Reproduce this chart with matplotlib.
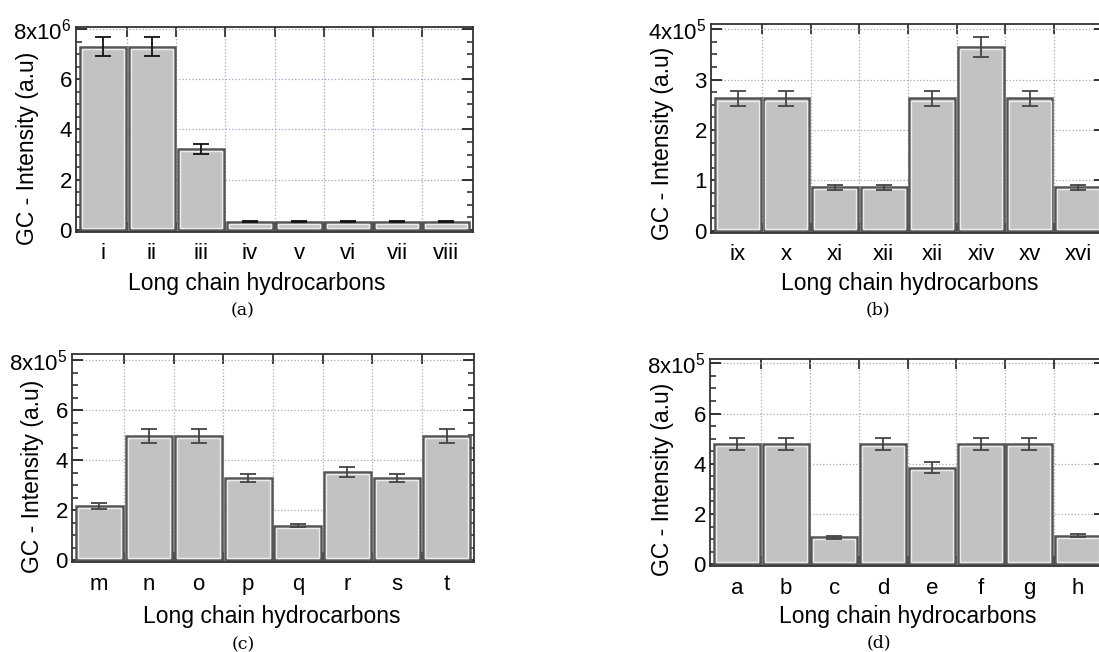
import matplotlib
matplotlib.use('Agg')
import matplotlib.pyplot as plt
from matplotlib.ticker import MultipleLocator, FixedLocator, NullFormatter
import numpy as np

plt.rcParams['font.family'] = ['Liberation Sans', 'DejaVu Sans']
plt.rcParams['mathtext.fontset'] = 'custom'
plt.rcParams['mathtext.rm'] = 'Liberation Sans'

# ---- data (values in units of the axis multiplier) ----
labels_a = ['i', 'ii', 'iii', 'iv', 'v', 'vi', 'vii', 'viii']
vals_a = [7.3, 7.3, 3.23, 0.33, 0.33, 0.33, 0.33, 0.33]
errs_a = [0.37, 0.37, 0.2, 0.02, 0.02, 0.02, 0.02, 0.02]

labels_b = ['ix', 'x', 'xi', 'xii', 'xii', 'xiv', 'xv', 'xvi']
vals_b = [2.63, 2.63, 0.87, 0.87, 2.63, 3.65, 2.63, 0.87]
errs_b = [0.15, 0.15, 0.05, 0.05, 0.15, 0.2, 0.15, 0.05]

labels_c = ['m', 'n', 'o', 'p', 'q', 'r', 's', 't']
vals_c = [2.17, 4.96, 4.96, 3.29, 1.38, 3.52, 3.29, 4.96]
errs_c = [0.12, 0.28, 0.28, 0.17, 0.07, 0.2, 0.17, 0.28]

labels_d = ['a', 'b', 'c', 'd', 'e', 'f', 'g', 'h']
vals_d = [4.78, 4.78, 1.08, 4.78, 3.85, 4.78, 4.78, 1.14]
errs_d = [0.25, 0.25, 0.06, 0.25, 0.21, 0.25, 0.25, 0.05]

W, H = 1099, 652
_FILL, _EDGE = '#c2c2c2', '#555555'


def _px_axes(fig, left, right, top, bottom):
    return fig.add_axes([left / W, 1 - bottom / H, (right - left) / W, (bottom - top) / H])


def _panel(fig, box, labels, vals, errs, ylim, ymax, major, exp, caption,
           grid_color, err_color, ylab_xy, tick_y, xlab_xy, cap_xy):
    left, right, top, bottom = box
    ax = _px_axes(fig, *box)
    x = np.arange(len(vals))
    span = ylim[1] - ylim[0]
    ax.bar(x, vals, width=0.94, color=_FILL, edgecolor=_EDGE, lw=1.8, zorder=2)
    # inner light outline -> double-border look
    ax.bar(x, [v - 0.02 * span for v in vals], bottom=0.009 * span, width=0.86,
           color='none', edgecolor='#ececec', lw=1.0, zorder=3)
    ax.errorbar(x, vals, yerr=errs, fmt='none', ecolor=err_color, elinewidth=1.3,
                capsize=5.5, capthick=1.3, zorder=4)
    ax.set_xlim(-0.55, len(vals) - 0.45)
    ax.set_ylim(*ylim)

    bounds = np.arange(len(vals) + 1) - 0.5
    ax.xaxis.set_major_locator(FixedLocator(bounds[1:-1]))
    ax.xaxis.set_major_formatter(NullFormatter())
    ax.xaxis.set_minor_locator(FixedLocator(x))
    ax.set_xticklabels(labels, minor=True)
    ax.tick_params(axis='x', which='major', direction='in', top=True, bottom=True,
                   length=7, width=1.3, color='#333333')
    pad_px = tick_y - bottom - 9
    ax.tick_params(axis='x', which='minor', length=0, labelsize=16,
                   pad=pad_px * 0.72)

    yt = np.arange(0, ymax + major / 2, major)
    ax.set_yticks(yt)
    ylabels = [f'{v:g}' for v in yt]
    ylabels[-1] = f'{ymax:g}x10$^{{{exp}}}$'
    ax.set_yticklabels(ylabels)
    ax.yaxis.set_minor_locator(MultipleLocator(major / 4))
    ax.tick_params(axis='y', which='major', direction='in', left=True, right=True,
                   length=8, width=1.3, labelsize=16, pad=3, color='#222222')
    ax.tick_params(axis='y', which='minor', direction='in', left=True, right=True,
                   length=4.5, width=1.1, color='#222222')

    ax.grid(True, which='major', ls=':', lw=0.9, color=grid_color, zorder=0)
    ax.set_axisbelow(True)
    for sp in ax.spines.values():
        sp.set_color('#333333')
        sp.set_linewidth(1.3)

    ax.set_xlabel('Long chain hydrocarbons', fontsize=16.5)
    ax.set_ylabel('GC - Intensity (a.u)', fontsize=16.5)
    ax.xaxis.label.set_va('center')
    ax.yaxis.label.set_va('center')
    ax.xaxis.set_label_coords((xlab_xy[0] - left) / (right - left),
                              (bottom - xlab_xy[1]) / (bottom - top))
    ax.yaxis.set_label_coords((ylab_xy[0] - left) / (right - left),
                              (bottom - ylab_xy[1]) / (bottom - top))
    fig.text(cap_xy[0] / W, 1 - cap_xy[1] / H, caption, ha='center', va='center',
             fontsize=12.5, family='DejaVu Serif')
    return ax


fig = plt.figure(figsize=(W / 100, H / 100), dpi=100)
fig.patch.set_facecolor('white')

_panel(fig, (76, 473, 27, 232), labels_a, vals_a, errs_a, (-0.08, 8.08), 8, 2, 6,
       '(a)', '#a0a0c8', '#111111', (28, 148), 252, (257, 284), (243, 311))
_panel(fig, (711, 1105, 24, 233), labels_b, vals_b, errs_b, (-0.04, 4.1), 4, 1, 5,
       '(b)', '#aaaaaa', '#444444', (662, 143), 253, (910, 283), (878, 310))
_panel(fig, (72, 474, 354, 562), labels_c, vals_c, errs_c, (-0.08, 8.25), 8, 2, 5,
       '(c)', '#aaaaaa', '#444444', (33, 476), 583, (272, 616), (243, 645))
_panel(fig, (710, 1105, 359, 566), labels_d, vals_d, errs_d, (-0.07, 8.17), 8, 2, 5,
       '(d)', '#aaaaaa', '#444444', (662, 479), 587, (908, 616), (879, 643))

fig.savefig('out.png', dpi=100, facecolor='white')
